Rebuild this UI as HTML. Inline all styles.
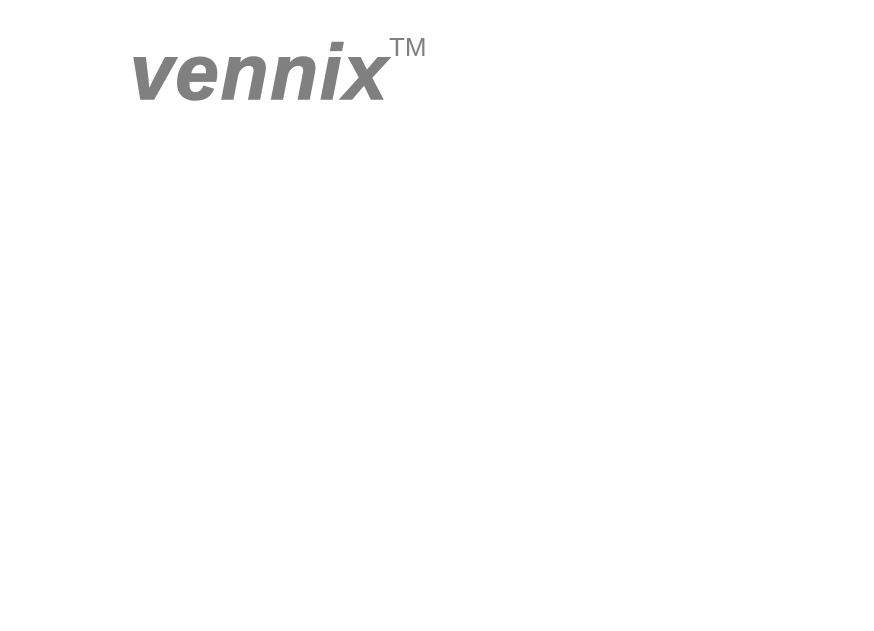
<!DOCTYPE html>
<html>
<head>
<meta charset="utf-8">
<style>
  html, body { margin: 0; padding: 0; background: #ffffff; }
  body { width: 874px; height: 631px; position: relative; overflow: hidden; }
  .logo {
    position: absolute; left: 130px; top: 22px;
    font-family: "Liberation Sans", sans-serif; font-weight: bold; font-style: italic;
    font-size: 78px; line-height: 100px; color: #808080; letter-spacing: 2px;
    -webkit-text-stroke: 1.5px #808080;
    white-space: nowrap;
  }
  .tm {
    position: absolute; left: 389px; top: 33px;
    font-family: "Liberation Sans", sans-serif; font-size: 26px; line-height: 28px;
    color: #808080; white-space: nowrap;
  }
</style>
</head>
<body>
  <div class="logo">vennix</div>
  <div class="tm">TM</div>
</body>
</html>
